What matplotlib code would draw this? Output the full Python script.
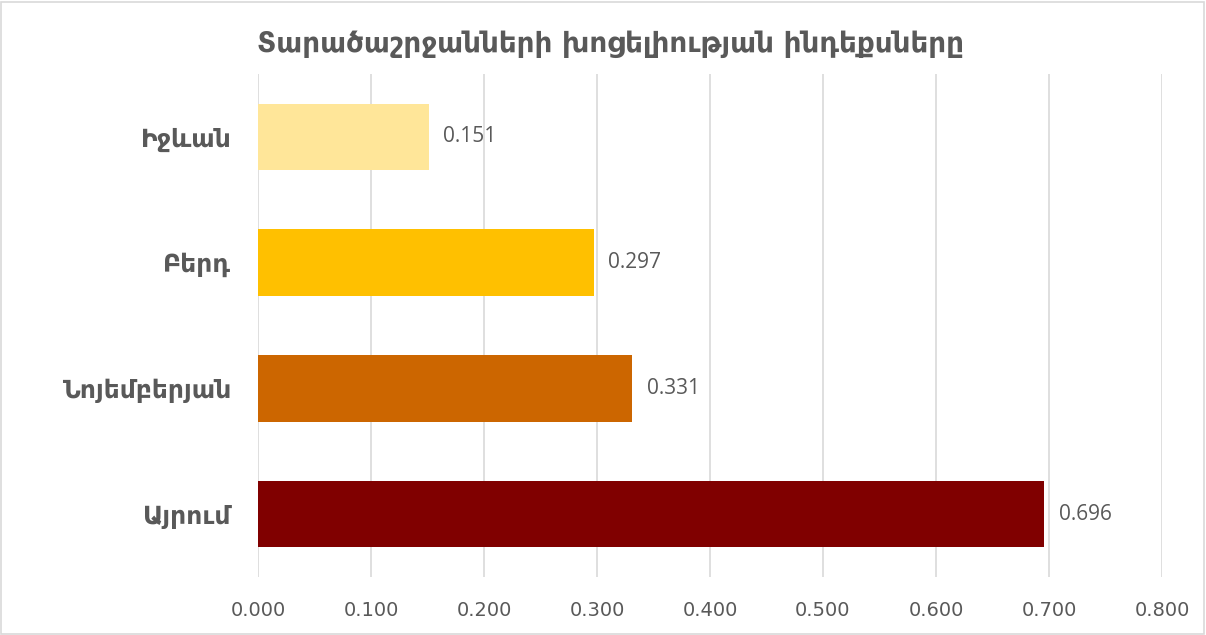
import matplotlib.pyplot as plt
from matplotlib.patches import Rectangle

# region index values
regions = ['Այրում', 'Նոյեմբերյան', 'Բերդ', 'Իջևան']
values = [0.696, 0.331, 0.297, 0.151]
colors = ['#800000', '#CC6600', '#FFC000', '#FFE699']
xticks = [0.0, 0.1, 0.2, 0.3, 0.4, 0.5, 0.6, 0.7, 0.8]

title = 'Տարածաշրջանների խոցելիության ինդեքսները'
text_color = '#595959'

plt.rcParams['font.family'] = ['DejaVu Sans']

fig = plt.figure(figsize=(12.06, 6.35), dpi=100)
ax = fig.add_axes([0.2139, 0.0913, 0.7496, 0.7922])

ypos = range(len(regions))
ax.barh(ypos, values, height=0.53, color=colors, zorder=3)

for y, v in zip(ypos, values):
    ax.text(v + 0.013, y, f'{v:.3f}', va='center', ha='left',
            fontsize=15, color=text_color, family='Open Sans')

ax.set_xlim(0, 0.8)
ax.set_ylim(-0.5, len(regions) - 0.5)
ax.set_xticks(xticks)
ax.set_xticklabels([f'{t:.3f}' for t in xticks], fontsize=14, color=text_color,
                   family='Liberation Sans Narrow')
ax.set_yticks(list(ypos))
ax.set_yticklabels(regions, fontsize=18, fontweight='bold', color=text_color)
ax.tick_params(axis='both', length=0)
ax.tick_params(axis='x', pad=17)
ax.tick_params(axis='y', pad=19)

ax.grid(axis='x', color='#D9D9D9', linewidth=1.2, zorder=0)
for s in ax.spines.values():
    s.set_visible(False)

fig.text(0.506, 0.93, title, ha='center', va='center', fontsize=20,
         fontweight='bold', color=text_color)

# thin frame round the chart
fig.patches.append(Rectangle((0.001, 0.002), 0.997, 0.995, transform=fig.transFigure,
                             fill=False, edgecolor='#D9D9D9', linewidth=1.2))

fig.savefig('out.png', dpi=100)
